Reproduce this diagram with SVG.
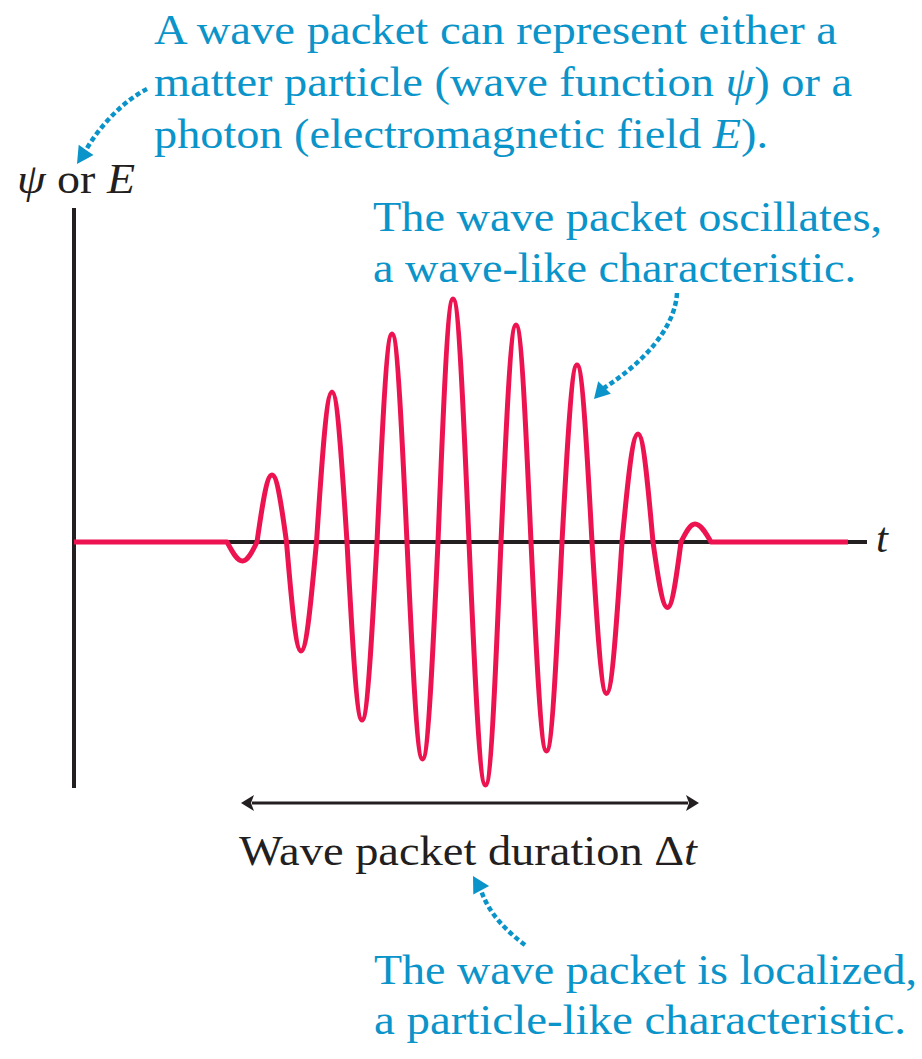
<svg xmlns="http://www.w3.org/2000/svg" width="922" height="1059" viewBox="0 0 922 1059">
<style>
.blue{fill:#0a94c9;font-family:"Liberation Serif","Times New Roman",serif;font-size:43px}
.blk{fill:#231f20;font-family:"Liberation Serif","Times New Roman",serif;font-size:43px}
.it{font-style:italic}
.axis{stroke:#231f20;stroke-width:4;fill:none}
.wave{stroke:#ec1350;stroke-width:5;fill:none;stroke-linejoin:round}
.dot{stroke:#0a94c9;stroke-width:4.5;fill:none;stroke-dasharray:5 3}
.head{fill:#0a94c9}
</style>
<rect width="922" height="1059" fill="#fff"/>
<g id="axes">
<line class="axis" x1="74" y1="208" x2="74" y2="788"/>
<line class="axis" x1="74" y1="542" x2="867" y2="542"/>
<text class="blk it" x="876" y="552" font-size="41">t</text>
</g>
<g id="wave-packet">
<path class="wave" d="M74,542 L227,542
C232.1,551.7 236.9,561 242.5,561 C247.7,561 252.3,551.7 257,542
C261.9,507.7 266.6,475 272,475 C277.2,475 281.8,507.7 286.5,542
C291.2,597.8 295.8,651 301,651 C306.6,651 311.4,597.8 316.5,542
C321.6,465.2 326.4,392 332,392 C337.4,392 342.1,465.2 347,542
C351.9,633.1 356.6,720 362,720 C367.4,720 372.1,633.1 377,542
C381.9,435.5 386.6,334 392,334 C397.4,334 402.1,435.5 407,542
C412.1,653.1 416.9,759 422.5,759 C428.1,759 432.9,653.1 438,542
C442.9,417.6 447.6,299 453,299 C458.8,299 463.8,417.6 469,542
C474.4,666.4 479.5,785 485.5,785 C491.1,785 495.9,666.4 501,542
C505.9,430.9 510.6,325 516,325 C521.4,325 526.1,430.9 531,542
C536.1,649 540.9,751 546.5,751 C552.1,751 556.9,649 562,542
C566.9,451.4 571.6,365 577,365 C582.4,365 587.1,451.4 592,542
C596.7,619.6 601.3,693.5 606.5,693.5 C612.1,693.5 616.9,619.6 622,542
C627.2,486.7 632.2,434 638,434 C643.4,434 648.1,486.7 653,542
C657.7,575.5 662.3,607.5 667.5,607.5 C672.4,607.5 676.6,575.5 681,542
C685.6,532.8 689.9,524 695,524 C700.8,524 705.8,532.8 711,542
L848,542"/>
</g>
<g id="axis-label">
<text class="blk" x="17" y="193" font-size="41" textLength="118" lengthAdjust="spacingAndGlyphs"><tspan class="it">ψ</tspan> or <tspan class="it">E</tspan></text>
</g>
<g id="note-representation">
<text class="blue" x="154" y="44" textLength="683" lengthAdjust="spacingAndGlyphs">A wave packet can represent either a</text>
<text class="blue" x="154" y="96" textLength="698" lengthAdjust="spacingAndGlyphs">matter particle (wave function <tspan class="it">ψ</tspan>) or a</text>
<text class="blue" x="154" y="148" textLength="614" lengthAdjust="spacingAndGlyphs">photon (electromagnetic field <tspan class="it">E</tspan>).</text>
</g>
<g id="note-oscillates">
<text class="blue" x="373" y="231" textLength="509" lengthAdjust="spacingAndGlyphs">The wave packet oscillates,</text>
<text class="blue" x="373" y="282" textLength="483" lengthAdjust="spacingAndGlyphs">a wave-like characteristic.</text>
</g>
<g id="duration">
<line x1="252" y1="803" x2="688" y2="803" stroke="#231f20" stroke-width="3"/>
<path d="M241,803 L254,795 L251,803 L254,811 Z" fill="#231f20"/>
<path d="M699,803 L686,795 L689,803 L686,811 Z" fill="#231f20"/>
<text class="blk" x="239" y="865" textLength="458" lengthAdjust="spacingAndGlyphs">Wave packet duration Δ<tspan class="it">t</tspan></text>
</g>
<g id="note-localized">
<text class="blue" x="374" y="984" textLength="543" lengthAdjust="spacingAndGlyphs">The wave packet is localized,</text>
<text class="blue" x="374" y="1034" textLength="532" lengthAdjust="spacingAndGlyphs">a particle-like characteristic.</text>
</g>
<g id="connectors">
<path class="dot" d="M147,89 C125,100 100,125 86,150"/>
<path class="head" d="M77,164 L78.7,144.8 L86,150 L93.5,155 Z"/>
<path class="dot" d="M677,293 C675,330 640,365 604,388"/>
<path class="head" d="M594,399 L598.2,381.2 L604.5,387.5 L610.8,393.8 Z"/>
<path class="dot" d="M525,945 C505,930 488,912 481,890"/>
<path class="head" d="M473,876 L489.1,885.9 L481.2,890.2 L473.3,894.5 Z"/>
</g>
</svg>
